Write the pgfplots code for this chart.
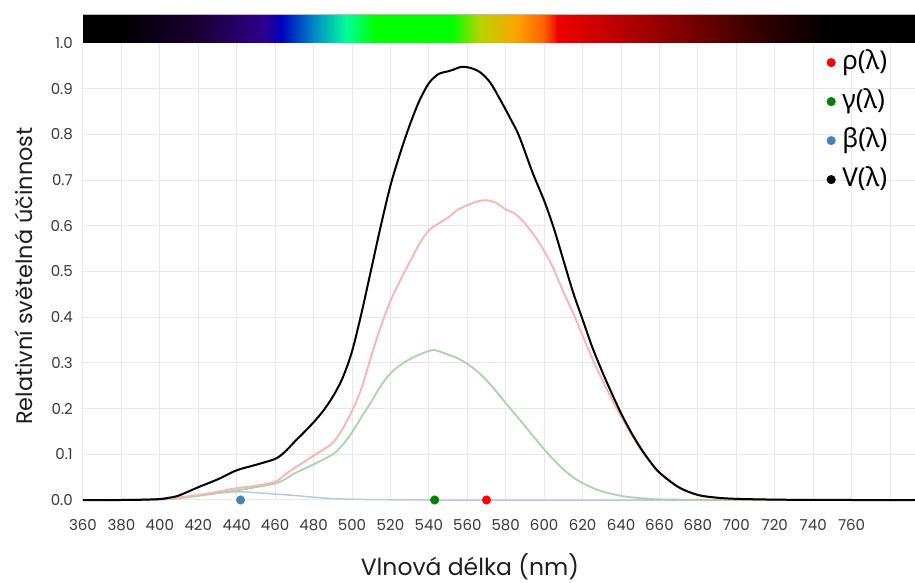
\documentclass[border=0pt]{standalone}
\usepackage{fontspec}
\setmainfont{Poppins}
\newfontfamily\legfont{Noto Sans}
\usepackage{pgfplots}
\pgfplotsset{compat=1.18}
\usepackage{pgfplotstable}

\definecolor{gridgray}{HTML}{E8E8E8}
\definecolor{tickgray}{HTML}{383838}
\definecolor{labgray}{HTML}{1E1E1E}
\definecolor{linered}{HTML}{FFB0B0}
\definecolor{linegreen}{HTML}{A8D4A8}
\definecolor{lineblue}{HTML}{B4CAE2}
\definecolor{dotred}{HTML}{FF0000}
\definecolor{dotgreen}{HTML}{008000}
\definecolor{dotblue}{HTML}{4682B4}
\definecolor{spa}{HTML}{1A0033}
\definecolor{spb}{HTML}{2E0090}
\definecolor{spc}{HTML}{0000C0}
\definecolor{spd}{HTML}{0088C8}
\definecolor{spe}{HTML}{00FF99}
\definecolor{spf}{HTML}{00FF00}
\definecolor{spg}{HTML}{B4D400}
\definecolor{sph}{HTML}{DCBC00}
\definecolor{spi}{HTML}{FFA000}
\definecolor{spj}{HTML}{FF6000}
\definecolor{spk}{HTML}{EE0000}
\definecolor{spl}{HTML}{B00000}
\definecolor{spm}{HTML}{700000}
\definecolor{spn}{HTML}{300000}

\pgfplotstableread{
lam v
360 0
380 0
390 0.0005
400 0.002
405 0.005
410 0.010
420 0.028
430 0.045
440 0.065
450 0.077
460 0.090
465 0.105
470 0.127
475 0.148
480 0.170
485 0.195
490 0.226
495 0.266
500 0.325
505 0.410
510 0.505
515 0.600
520 0.688
525 0.758
530 0.820
535 0.873
540 0.912
545 0.932
550 0.938
553 0.942
557 0.948
562 0.945
567 0.935
572 0.913
577 0.877
582 0.838
587 0.796
594 0.716
600 0.655
605 0.595
610 0.525
615 0.455
620 0.395
625 0.335
630 0.283
635 0.235
640 0.190
645 0.150
650 0.115
655 0.085
660 0.060
670 0.028
680 0.011
690 0.005
700 0.0025
720 0.0008
740 0.0002
760 0
793 0
}\Vdata

\pgfplotstableread{
lam v
360 0
390 0
400 0.001
410 0.005
420 0.011
430 0.018
440 0.026
450 0.031
460 0.040
465 0.055
470 0.070
475 0.083
480 0.097
485 0.110
490 0.125
495 0.155
500 0.195
505 0.245
510 0.315
515 0.380
520 0.435
525 0.480
530 0.520
535 0.560
540 0.590
545 0.605
550 0.618
555 0.635
560 0.645
565 0.653
570 0.656
575 0.650
580 0.636
585 0.626
590 0.605
595 0.578
600 0.545
605 0.505
610 0.455
615 0.410
620 0.360
625 0.310
630 0.265
635 0.222
640 0.183
645 0.146
650 0.112
655 0.083
660 0.059
670 0.027
680 0.011
690 0.005
700 0.0025
720 0.0008
740 0.0002
760 0
793 0
}\Rdata

\pgfplotstableread{
lam v
360 0
400 0.001
410 0.004
420 0.009
430 0.015
440 0.021
450 0.028
460 0.036
465 0.045
470 0.058
480 0.078
490 0.100
495 0.120
500 0.148
505 0.182
510 0.215
515 0.250
520 0.277
525 0.295
530 0.308
535 0.318
540 0.326
543 0.328
547 0.323
550 0.318
555 0.310
560 0.298
565 0.282
570 0.262
575 0.238
580 0.212
585 0.187
590 0.162
595 0.136
600 0.111
605 0.088
610 0.067
615 0.050
620 0.037
625 0.027
630 0.019
640 0.009
650 0.004
660 0.0015
680 0.0003
700 0
793 0
}\Gdata

\pgfplotstableread{
lam v
360 0
380 0.0005
400 0.003
410 0.006
420 0.010
430 0.015
440 0.018
450 0.016
460 0.013
470 0.010
480 0.006
490 0.003
500 0.0015
520 0.0005
540 0
793 0
}\Bdata

\begin{document}
\begin{tikzpicture}
\path[use as bounding box] (-83pt,-83pt) rectangle (832pt,500pt);
\begin{axis}[
  at={(0pt,0pt)}, anchor=south west,
  scale only axis, width=832pt, height=457pt,
  xmin=360, xmax=793, ymin=0, ymax=1,
  clip=false,
  axis line style={draw=none},
  major tick length=0pt,
  grid=major,
  grid style={color=gridgray, line width=1pt},
  xtick={360,380,400,420,440,460,480,500,520,540,560,580,600,620,640,660,680,700,720,740,760,780},
  xticklabels={360,380,400,420,440,460,480,500,520,540,560,580,600,620,640,660,680,700,720,740,760,{}},
  ytick={0,0.1,0.2,0.3,0.4,0.5,0.6,0.7,0.8,0.9,1.0},
  /pgf/number format/assume math mode=true,
  tick label style={font=\fontsize{15}{17}\selectfont, text=tickgray},
  xticklabel style={anchor=base, yshift=-30.5pt},
  yticklabel style={anchor=east, inner sep=0pt, xshift=-10pt,
    /pgf/number format/fixed, /pgf/number format/fixed zerofill, /pgf/number format/precision=1},
  xlabel={Vlnová délka (nm)},
  ylabel={Relativní světelná účinnost},
  xlabel style={at={(rel axis cs:0.465,-0.166)}, anchor=base, font=\fontsize{23.5}{27}\selectfont, text=labgray},
  ylabel style={at={(rel axis cs:-0.0601,0.49)}, rotate=0, anchor=base, font=\fontsize{22.4}{26}\selectfont, text=labgray},
  legend image code/.code={\path (0pt,0pt) (16pt,0pt); \draw[#1] plot coordinates {(5pt,1.5pt)};},
  legend style={at={(rel axis cs:0.893,0.979)}, anchor=north west, draw=none, fill=none,
    inner sep=0pt, outer sep=0pt, row sep=16pt,
    font=\legfont\fontsize{26}{30}\selectfont,
    nodes={inner sep=0pt, text height=17pt, text depth=6pt}},
  legend cell align=left,
]
% spectrum bar
\def\yb{1.0}\def\yt{1.0635}
\fill[black] (axis cs:360,\yb) rectangle (axis cs:380.2,\yt);
\fill[left color=black,right color=spa] (axis cs:380,\yb) rectangle (axis cs:420.2,\yt);
\fill[left color=spa,right color=spb] (axis cs:420,\yb) rectangle (axis cs:455.2,\yt);
\fill[left color=spb,right color=spc] (axis cs:455,\yb) rectangle (axis cs:463.2,\yt);
\fill[left color=spc,right color=spd] (axis cs:463,\yb) rectangle (axis cs:480.2,\yt);
\fill[left color=spd,right color=spe] (axis cs:480,\yb) rectangle (axis cs:497.2,\yt);
\fill[left color=spe,right color=spf] (axis cs:497,\yb) rectangle (axis cs:512.2,\yt);
\fill[spf] (axis cs:512,\yb) rectangle (axis cs:552.2,\yt);
\fill[left color=spf,right color=spg] (axis cs:552,\yb) rectangle (axis cs:566.2,\yt);
\fill[left color=spg,right color=sph] (axis cs:566,\yb) rectangle (axis cs:576.2,\yt);
\fill[left color=sph,right color=spi] (axis cs:576,\yb) rectangle (axis cs:586.2,\yt);
\fill[left color=spi,right color=spj] (axis cs:586,\yb) rectangle (axis cs:600.2,\yt);
\fill[left color=spj,right color=spk] (axis cs:600,\yb) rectangle (axis cs:607.2,\yt);
\fill[left color=spk,right color=spl] (axis cs:607,\yb) rectangle (axis cs:645.2,\yt);
\fill[left color=spl,right color=spm] (axis cs:645,\yb) rectangle (axis cs:680.2,\yt);
\fill[left color=spm,right color=spn] (axis cs:680,\yb) rectangle (axis cs:714.2,\yt);
\fill[left color=spn,right color=black] (axis cs:714,\yb) rectangle (axis cs:748.2,\yt);
\fill[black] (axis cs:748,\yb) rectangle (axis cs:793,\yt);
\fill[white] (axis cs:355,1.0645) rectangle (axis cs:800,1.0800);
\draw[gray!55, line width=0.8pt] (axis cs:360,1.0627) -- (axis cs:793,1.0627);

\addplot[forget plot, lineblue, line width=1.5pt, smooth] table[x=lam,y=v] {\Bdata};
\addplot[forget plot, linegreen, line width=1.8pt, smooth] table[x=lam,y=v] {\Gdata};
\addplot[forget plot, linered, line width=1.8pt, smooth] table[x=lam,y=v] {\Rdata};
\addplot[forget plot, black, line width=2pt, smooth] table[x=lam,y=v] {\Vdata};

\addplot[only marks, mark=*, mark size=4.3pt, color=dotred] coordinates {(570,0)};
\addlegendentry{ρ(λ)}
\addplot[only marks, mark=*, mark size=4.3pt, color=dotgreen] coordinates {(543,0)};
\addlegendentry{γ(λ)}
\addplot[only marks, mark=*, mark size=4.3pt, color=dotblue] coordinates {(442,0)};
\addlegendentry{β(λ)}
\addlegendimage{only marks, mark=*, mark size=4.3pt, color=black}
\addlegendentry{V(λ)}
\end{axis}
\end{tikzpicture}
\end{document}
